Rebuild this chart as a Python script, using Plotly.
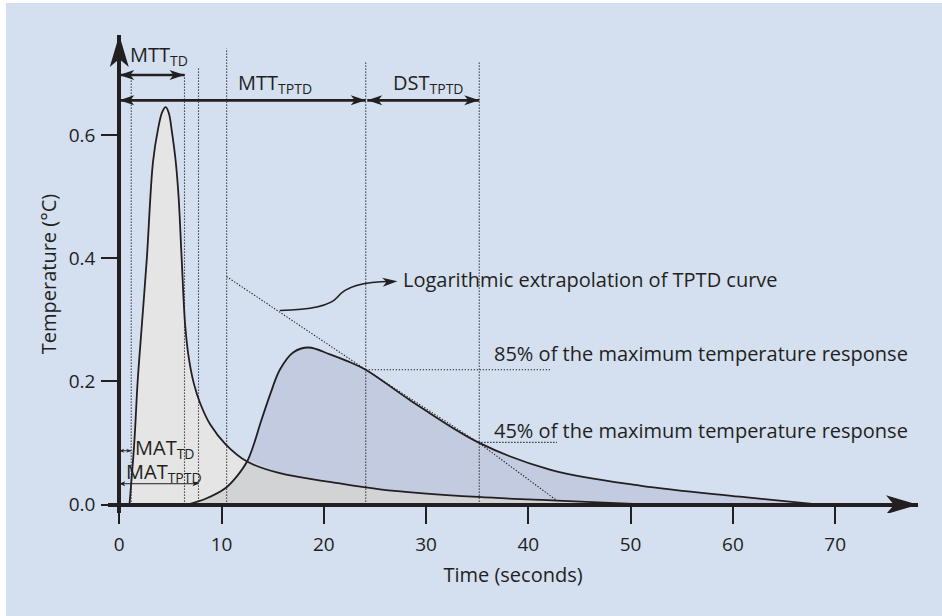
import numpy as np
import plotly.graph_objects as go

# ---------------- data ----------------
td_time = [1.0, 1.47, 1.8, 2.25, 2.7, 3.3, 3.8, 4.2, 4.55, 4.85, 5.15, 5.5, 5.8, 6.1, 6.45, 6.8,
           7.27, 7.9, 8.9, 10.4, 12.5, 15.7, 20.6, 25.5, 35.1, 42.8, 52.0]
td_temp = [0.0, 0.1, 0.2, 0.3, 0.4, 0.556, 0.61, 0.637, 0.645, 0.635, 0.605, 0.56, 0.5, 0.4, 0.29, 0.238,
           0.198, 0.165, 0.13, 0.098, 0.07, 0.051, 0.037, 0.025, 0.0125, 0.0065, 0.0]

tptd_time = [6.6, 8.5, 10.4, 11.5, 12.5, 13.2, 13.8, 14.8, 15.7, 17.0, 18.5, 20.6, 22.3, 24.1, 28.4, 35.1,
             42.1, 50.9, 60.7, 68.5]
tptd_temp = [0.0, 0.01, 0.027, 0.046, 0.07, 0.1, 0.132, 0.181, 0.219, 0.247, 0.255, 0.244, 0.233, 0.219, 0.17,
             0.101, 0.057, 0.031, 0.013, 0.0]

crossing_time = 12.5  # where the two curves cross

extrap_time = [10.5, 24.1, 35.1, 42.8]
extrap_temp = [0.37, 0.219, 0.101, 0.0065]

# time markers (s)
mat_td = 1.17
mtt_td = 6.38
mat_tptd = 7.75
extrap_start = 10.5
mtt_tptd = 24.1
dst_end = 35.2
marker_times = [mat_td, mtt_td, mat_tptd, extrap_start, mtt_tptd, dst_end]
marker_tops = [0.705, 0.70, 0.708, 0.74, 0.72, 0.72]

level85_temp = 0.219
level85_end = 42.2
level45_temp = 0.101
level45_end = 42.8

x_ticks = [0, 10, 20, 30, 40, 50, 60, 70]
y_ticks = [0.0, 0.2, 0.4, 0.6]

x_range = [-1.1, 78.1]
y_range = [-0.0135, 0.762]

# ---------------- styling ----------------
INK = "#231f20"
BG = "#d4dff0"
FONT = "Open Sans"
FS = 20

fig = go.Figure()

# fills
fig.add_trace(go.Scatter(x=tptd_time, y=tptd_temp, mode="lines", line=dict(width=0, shape="spline"),
                         fill="tozeroy", fillcolor="#c2cbdf", hoverinfo="skip", showlegend=False))
fig.add_trace(go.Scatter(x=td_time, y=td_temp, mode="lines", line=dict(width=0, shape="spline"),
                         fill="tozeroy", fillcolor="#e5e5e6", hoverinfo="skip", showlegend=False))
tt = np.array(tptd_time); tv = np.array(tptd_temp)
dt = np.array(td_time); dv = np.array(td_temp)
ov_x = list(tt[tt <= crossing_time]) + list(dt[dt > crossing_time])
ov_y = list(tv[tt <= crossing_time]) + list(dv[dt > crossing_time])
fig.add_trace(go.Scatter(x=ov_x, y=ov_y, mode="lines", line=dict(width=0, shape="spline"),
                         fill="tozeroy", fillcolor="#d2d3d5", hoverinfo="skip", showlegend=False))

DOT = "1.3px,1.7px"
for t, top in zip(marker_times, marker_tops):
    fig.add_trace(go.Scatter(x=[t, t], y=[0, top], mode="lines",
                             line=dict(color=INK, width=1.1, dash=DOT), hoverinfo="skip", showlegend=False))
fig.add_trace(go.Scatter(x=[mtt_tptd, level85_end], y=[level85_temp, level85_temp], mode="lines",
                         line=dict(color=INK, width=1.1, dash=DOT), hoverinfo="skip", showlegend=False))
fig.add_trace(go.Scatter(x=[extrap_time[2], level45_end], y=[level45_temp, level45_temp], mode="lines",
                         line=dict(color=INK, width=1.1, dash=DOT), hoverinfo="skip", showlegend=False))
fig.add_trace(go.Scatter(x=extrap_time, y=extrap_temp, mode="lines",
                         line=dict(color=INK, width=1.1, dash=DOT), hoverinfo="skip", showlegend=False))

# curves
fig.add_trace(go.Scatter(x=td_time, y=td_temp, mode="lines", line=dict(color=INK, width=1.8, shape="spline"),
                         hoverinfo="skip", showlegend=False))
fig.add_trace(go.Scatter(x=tptd_time, y=tptd_temp, mode="lines", line=dict(color=INK, width=1.8, shape="spline"),
                         hoverinfo="skip", showlegend=False))

shapes = []
annotations = []


def head(x, y, ang, L, W, notch):
    a = np.deg2rad(ang)
    pts = [(0, 0), (-L, W / 2), (-L + notch, 0), (-L, -W / 2)]
    rp = [(px * np.cos(a) - py * np.sin(a), px * np.sin(a) + py * np.cos(a)) for px, py in pts]
    path = "M" + " L".join(f"{px:.2f},{py:.2f}" for px, py in rp) + " Z"
    shapes.append(dict(type="path", xref="x", yref="y", xsizemode="pixel", ysizemode="pixel",
                       xanchor=x, yanchor=y, path=path, fillcolor=INK, line=dict(width=0), layer="above"))


def double_arrow(x0, x1, y, lw, L, W, notch):
    shapes.append(dict(type="line", xref="x", yref="y", x0=x0, x1=x1, y0=y, y1=y,
                       line=dict(color=INK, width=lw), layer="above"))
    head(x0, y, 180, L, W, notch)
    head(x1, y, 0, L, W, notch)


# axis arrowheads
head(x_range[1], 0, 0, 32, 19, 8)
head(0, y_range[1], 90, 32, 19, 8)

# top arrows
double_arrow(0, mtt_td, 0.697, 2.6, 15, 10, 4)
double_arrow(0, mtt_tptd, 0.656, 2.6, 15, 10, 4)
double_arrow(mtt_tptd + 0.15, dst_end, 0.656, 2.6, 15, 10, 4)
# bottom small arrows
double_arrow(0, mat_td, 0.0875, 1.0, 5, 4, 1.5)
double_arrow(0, mat_tptd, 0.034, 1.0, 6, 5, 1.5)

# curly arrow to the extrapolation label
shapes.append(dict(type="path", xref="x", yref="y",
                   path="M 15.7,0.315 C 18.5,0.316 20.6,0.322 21.3,0.336 C 22.0,0.352 23.5,0.362 26.6,0.362",
                   line=dict(color=INK, width=1.6), layer="above"))
head(27.2, 0.3625, 4, 15, 9, 4)

# white border strips (top and left)
shapes.append(dict(type="rect", xref="paper", yref="paper", x0=-0.2, x1=-102 / 810, y0=-0.3, y1=1.2,
                   fillcolor="white", line=dict(width=0), layer="below"))
shapes.append(dict(type="rect", xref="paper", yref="paper", x0=-0.2, x1=1.1, y0=1.0669, y1=1.2,
                   fillcolor="white", line=dict(width=0), layer="below"))


def label(x, y, text, xanchor="left", size=FS):
    annotations.append(dict(x=x, y=y, xref="x", yref="y", text=text, showarrow=False,
                            xanchor=xanchor, yanchor="middle", font=dict(family=FONT, size=size, color=INK)))


label(0.9, 0.728, "MTT<sub>TD</sub>")
label(11.4, 0.684, "MTT<sub>TPTD</sub>")
label(26.6, 0.684, "DST<sub>TPTD</sub>")
label(1.3, 0.091, "MAT<sub>TD</sub>")
label(0.45, 0.053, "MAT<sub>TPTD</sub>")
label(27.5, 0.365, "Logarithmic extrapolation of TPTD curve")
label(36.4, 0.246, "85% of the maximum temperature response")
label(36.4, 0.121, "45% of the maximum temperature response")

x_pos = (0 - y_range[0]) / (y_range[1] - y_range[0])
y_pos = (0 - x_range[0]) / (x_range[1] - x_range[0])

fig.update_layout(
    width=942, height=616,
    margin=dict(l=108, r=24, t=35, b=103, autoexpand=False),
    paper_bgcolor=BG, plot_bgcolor=BG,
    font=dict(family=FONT, size=FS, color=INK),
    shapes=shapes, annotations=annotations,
    xaxis=dict(range=x_range, anchor="free", position=x_pos, showgrid=False, zeroline=False,
               showline=True, linewidth=4, linecolor=INK, ticks="outside", ticklen=17, tickwidth=2.2,
               tickcolor=INK, tickvals=x_ticks, ticklabelstandoff=5,
               tickfont=dict(family=FONT, size=19, color=INK),
               title=dict(text="Time (seconds)", font=dict(family=FONT, size=20, color=INK), standoff=11),
               automargin=False, fixedrange=True),
    yaxis=dict(range=y_range, anchor="free", position=y_pos, showgrid=False, zeroline=False,
               showline=True, linewidth=4, linecolor=INK, ticks="outside", ticklen=16, tickwidth=2.2,
               tickcolor=INK, tickvals=y_ticks, tickformat=".1f", ticklabelstandoff=2,
               tickfont=dict(family=FONT, size=19, color=INK),
               title=dict(text="Temperature (°C)", font=dict(family=FONT, size=20, color=INK), standoff=6),
               automargin=False, fixedrange=True),
)

fig.write_html("out.html", config={"displayModeBar": False},
               post_script="document.body.style.margin='0px';")
